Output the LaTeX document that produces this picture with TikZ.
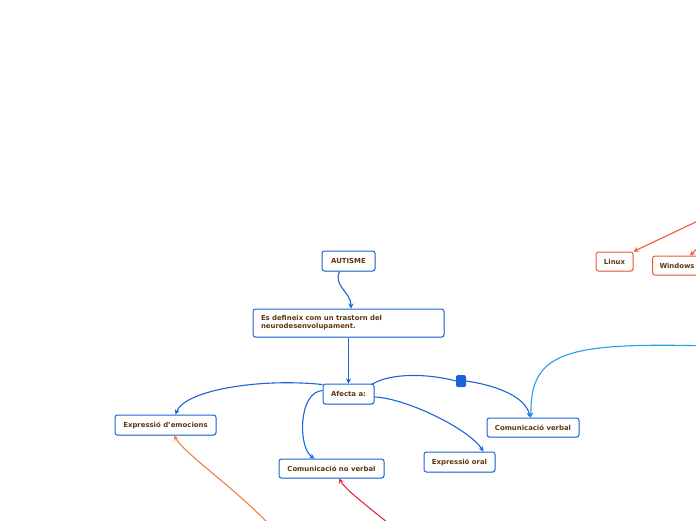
\documentclass[tikz,border=0pt]{standalone}
\usepackage{fontspec}
\setmainfont{DejaVu Sans}
\usepackage{xcolor}
\usetikzlibrary{arrows.meta,shadows}
\definecolor{mapblue}{RGB}{25,100,215}
\definecolor{textbrown}{RGB}{95,55,15}
\definecolor{mapcyan}{RGB}{35,160,230}
\definecolor{maporange}{RGB}{240,125,70}
\definecolor{mapred}{RGB}{230,40,60}
\definecolor{osorange}{RGB}{240,90,50}

\begin{document}
\begin{tikzpicture}[x=1pt, y=-1pt, >={Stealth[length=5pt,width=5pt]},
    topic/.style={draw=mapblue, line width=1pt, rounded corners=2.5pt, fill=white,
        text=textbrown, font=\fontsize{6.9}{8}\selectfont\bfseries,
        minimum height=20pt, inner xsep=0pt, inner ysep=0pt,
        drop shadow={opacity=0.25, shadow xshift=0.7pt, shadow yshift=-0.9pt}},
    ostopic/.style={topic, draw=osorange},
    link/.style={->, line width=1.1pt, mapblue}]
        \useasboundingbox (0,0) rectangle (696,520);
        \clip (0,0) rectangle (696,520);

        % Main topics
        \node[topic, minimum width=53pt] (autisme) at (348.5,261) {AUTISME};
        \node[topic, inner xsep=8pt, minimum height=28pt, text width=175pt, align=left] (def) at (348.5,323)
            {Es defineix com un trastorn del\\neurodesenvolupament.};
        \node[topic, minimum width=51pt] (afecta) at (348.5,394) {Afecta a:};

        % Subtopics
        \node[topic, minimum width=101pt] (emocions) at (165.5,425) {Expressió d’emocions};
        \node[topic, minimum width=105pt, minimum height=19pt] (noverbal) at (331.5,468.5) {Comunicació no verbal};
        \node[topic, minimum width=71pt] (oral) at (459.5,462) {Expressió oral};
        \node[topic, minimum width=92pt, minimum height=19pt] (verbal) at (533,427.5) {Comunicació verbal};

        % Topics at the right border
        \node[ostopic, minimum width=37pt, minimum height=19pt] (linux) at (614.5,261.5) {Linux};
        \node[ostopic, inner xsep=7pt, minimum height=19pt, anchor=west] (windows) at (652,265.5) {Windows};

        % Marker on the link
        \node[fill=mapblue, rounded corners=1.5pt, minimum width=10pt, minimum height=12pt, inner sep=0pt] (knot) at (461,381) {};

        % Ends of links from outside the view
        \coordinate (offright) at (710,346);
        \coordinate (offsw) at (268,523);
        \coordinate (offs) at (388,523);
        \coordinate (offne) at (700,220);
        \coordinate (offe) at (702,244);

        % Links
        \draw[link] ([xshift=-9pt]autisme.south) .. controls (333,286) and (351,292) .. ([xshift=2.5pt]def.north);
        \draw[link] (def.south) -- (afecta.north);
        \draw[link] ([yshift=-1pt]afecta.north west) .. controls (260,378) and (185,390) .. ([xshift=10pt]emocions.north);
        \draw[link] ([yshift=-7pt]afecta.north west) .. controls (298,392) and (298,448) .. ([xshift=-17pt]noverbal.north);
        \draw[line width=1.1pt, mapblue] ([xshift=-3pt,yshift=-1pt]afecta.north east) .. controls (392,372) and (430,374) .. (knot.west);
        \draw[link] (knot.east) .. controls (500,386) and (526,398) .. ([xshift=-3pt]verbal.north);
        \draw[link] ([yshift=-3pt]afecta.east) .. controls (405,398) and (468,428) .. ([xshift=24pt]oral.north);

        % Links coming in from outside
        \draw[->, line width=1.1pt, mapcyan] (offright) .. controls (565,342) and (530,352) .. ([xshift=-2pt]verbal.north);
        \draw[->, line width=1.1pt, maporange] (offsw) .. controls (225,480) and (186,455) .. ([xshift=8.5pt]emocions.south);
        \draw[->, line width=1.1pt, mapred] (offs) .. controls (366,505) and (346,490) .. ([xshift=7.5pt]noverbal.south);
        \draw[->, line width=1.1pt, osorange] (offne) -- (linux.north east);
        \draw[->, line width=1.1pt, osorange] (offe) -- ([xshift=38pt]windows.north west);
\end{tikzpicture}
\end{document}
